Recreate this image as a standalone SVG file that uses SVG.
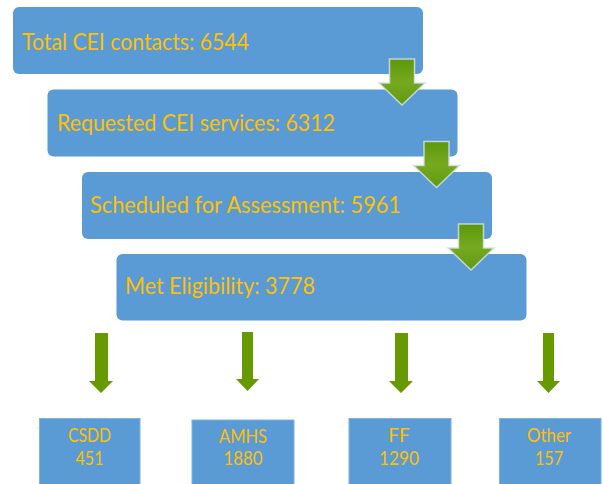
<svg xmlns="http://www.w3.org/2000/svg" width="603" height="484" viewBox="0 0 603 484">
<defs>
<linearGradient id="gArrow" x1="0" y1="0" x2="0" y2="1">
<stop offset="0" stop-color="#5c980c"/>
<stop offset="0.5" stop-color="#76a920"/>
<stop offset="1" stop-color="#5f9a10"/>
</linearGradient>
<style>
.box{fill:#5b9bd5;}
.sbox{fill:#5b9bd5;stroke:#7fb2e0;stroke-width:1;}
.big{font-family:Lato,"Liberation Sans",sans-serif;font-size:23px;fill:#ffc000;}
.small{font-family:Lato,"Liberation Sans",sans-serif;font-size:19px;fill:#ffc000;text-anchor:middle;}
.garrow{fill:url(#gArrow);stroke:#d2e0e6;stroke-width:1.5;stroke-opacity:0.85;}
.sarrow{fill:#679a00;}
</style>
</defs>
<rect width="603" height="484" fill="#ffffff"/>

<g id="node-total">
<rect class="box" x="13" y="7" width="410" height="67" rx="6"/>
<text class="big" x="22" y="50" textLength="227" lengthAdjust="spacingAndGlyphs">Total CEI contacts: 6544</text>
</g>
<g id="node-requested">
<rect class="box" x="47.5" y="89.5" width="410" height="67" rx="6"/>
<text class="big" x="57" y="131" textLength="278" lengthAdjust="spacingAndGlyphs">Requested CEI services: 6312</text>
</g>
<g id="node-scheduled">
<rect class="box" x="82" y="172" width="410" height="67" rx="6"/>
<text class="big" x="90" y="213" textLength="311" lengthAdjust="spacingAndGlyphs">Scheduled for Assessment: 5961</text>
</g>
<g id="node-eligibility">
<rect class="box" x="116.5" y="254" width="410" height="66.5" rx="6"/>
<text class="big" x="125" y="294" textLength="190" lengthAdjust="spacingAndGlyphs">Met Eligibility: 3778</text>
</g>

<g id="node-csdd">
<rect class="sbox" x="39.5" y="418.5" width="100.5" height="68"/>
<text class="small" x="89.5" y="442" textLength="43" lengthAdjust="spacingAndGlyphs">CSDD</text>
<text class="small" x="89.5" y="465" textLength="28" lengthAdjust="spacingAndGlyphs">451</text>
</g>
<g id="node-amhs">
<rect class="sbox" x="192" y="420" width="102" height="66"/>
<text class="small" x="243" y="443" textLength="48" lengthAdjust="spacingAndGlyphs">AMHS</text>
<text class="small" x="243" y="465" textLength="39" lengthAdjust="spacingAndGlyphs">1880</text>
</g>
<g id="node-ff">
<rect class="sbox" x="349" y="418.5" width="102" height="68"/>
<text class="small" x="399" y="442">FF</text>
<text class="small" x="399" y="465" textLength="40" lengthAdjust="spacingAndGlyphs">1290</text>
</g>
<g id="node-other">
<rect class="sbox" x="499.5" y="418.5" width="101.5" height="68"/>
<text class="small" x="549" y="442" textLength="44" lengthAdjust="spacingAndGlyphs">Other</text>
<text class="small" x="549" y="465" textLength="28" lengthAdjust="spacingAndGlyphs">157</text>
</g>

<g id="connectors">
<polygon class="garrow" points="389.5,59 414.5,59 414.5,83 425,83 402,105 379,83 389.5,83"/>
<polygon class="garrow" points="424,141.5 449,141.5 449,165.5 459.5,165.5 436.5,187.5 413.5,165.5 424,165.5"/>
<polygon class="garrow" points="458.5,224 483.5,224 483.5,248 494,248 471,270 448,248 458.5,248"/>
<polygon class="sarrow" points="95,333 108,333 108,381 113,381 101,393 89,381 95,381"/>
<polygon class="sarrow" points="242,332 253,332 253,379 259,379 247.5,391 236,379 242,379"/>
<polygon class="sarrow" points="395,333 408,333 408,381 413,381 401,393 389,381 395,381"/>
<polygon class="sarrow" points="543,333 554,333 554,381 560,381 548.5,393 537,381 543,381"/>
</g>
</svg>
